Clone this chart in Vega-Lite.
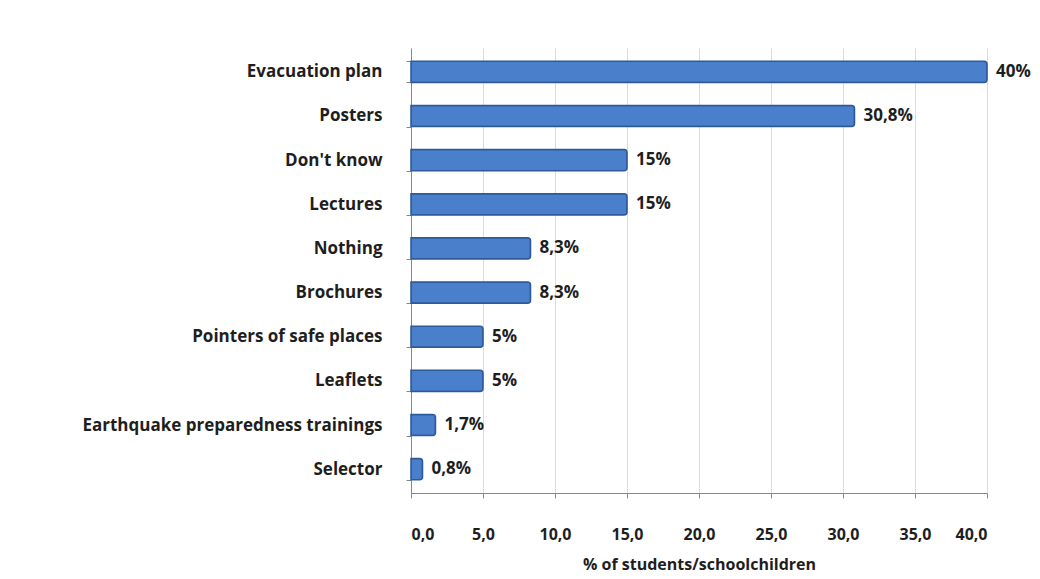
{
  "$schema": "https://vega.github.io/schema/vega-lite/v6.json",
  "width": 576,
  "height": 445,
  "autosize": {"type": "none"},
  "padding": {"left": 411, "top": 48, "right": 53, "bottom": 86},
  "background": "white",
  "config": {
    "view": {"stroke": null},
    "font": "Open Sans"
  },
  "data": {
    "values": [
      {"item": "Evacuation plan", "value": 40, "label": "40%"},
      {"item": "Posters", "value": 30.8, "label": "30,8%"},
      {"item": "Don't know", "value": 15, "label": "15%"},
      {"item": "Lectures", "value": 15, "label": "15%"},
      {"item": "Nothing", "value": 8.3, "label": "8,3%"},
      {"item": "Brochures", "value": 8.3, "label": "8,3%"},
      {"item": "Pointers of safe places", "value": 5, "label": "5%"},
      {"item": "Leaflets", "value": 5, "label": "5%"},
      {"item": "Earthquake preparedness trainings", "value": 1.7, "label": "1,7%"},
      {"item": "Selector", "value": 0.8, "label": "0,8%"}
    ]
  },
  "encoding": {
    "y": {
      "field": "item",
      "type": "nominal",
      "sort": null,
      "scale": {"paddingInner": 0.52, "paddingOuter": 0.3},
      "axis": {
        "title": null,
        "labelFont": "Open Sans",
        "labelFontWeight": "bold",
        "labelFontSize": 17,
        "labelColor": "#1e1e1e",
        "labelPadding": 24,
        "domainColor": "#888888",
        "tickColor": "#888888",
        "tickBand": "extent",
        "tickSize": 5,
        "grid": false,
        "labelLimit": 420
      }
    },
    "x": {
      "field": "value",
      "type": "quantitative",
      "scale": {"domain": [0, 40]},
      "axis": {
        "title": "% of students/schoolchildren",
        "titleFont": "Open Sans",
        "titleFontWeight": "bold",
        "titleFontSize": 16,
        "titleColor": "#1e1e1e",
        "titlePadding": 14,
        "values": [0, 5, 10, 15, 20, 25, 30, 35, 40],
        "labelExpr": "replace(format(datum.value, '.1f'), '.', ',')",
        "labelFont": "Open Sans",
        "labelFontWeight": "bold",
        "labelFontSize": 16,
        "labelColor": "#1e1e1e",
        "labelPadding": 28,
        "domainColor": "#888888",
        "tickColor": "#888888",
        "tickSize": 5,
        "grid": true,
        "gridColor": "#dcdcdc"
      }
    }
  },
  "layer": [
    {
      "mark": {"type": "bar", "color": "#4a7fcc", "stroke": "#2d5a99", "strokeWidth": 1.5, "cornerRadiusEnd": 3}
    },
    {
      "mark": {"type": "text", "align": "left", "dx": 9, "font": "Open Sans", "fontWeight": "bold", "fontSize": 17, "color": "#1e1e1e"},
      "encoding": {"text": {"field": "label"}}
    }
  ]
}
